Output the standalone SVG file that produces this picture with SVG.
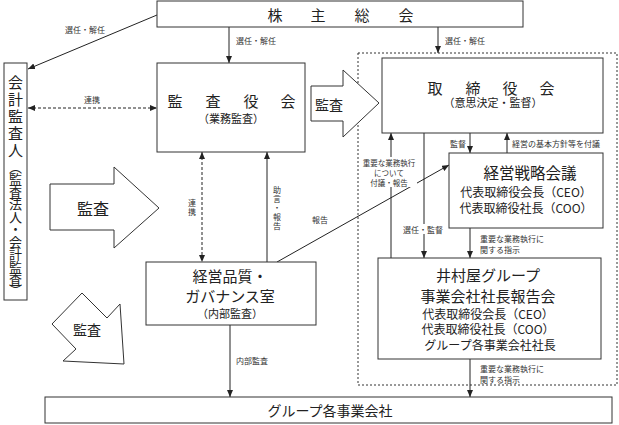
<svg xmlns="http://www.w3.org/2000/svg" width="619" height="425" viewBox="0 0 619 425">
<defs>
<marker id="ah" markerUnits="userSpaceOnUse" markerWidth="7" markerHeight="6" refX="7" refY="3" orient="auto-start-reverse"><path d="M0,0 L7,3 L0,6 z" fill="#222"/></marker>
</defs>
<style>
.box{fill:#fff;stroke:#333;stroke-width:1}
.t{font-family:"Noto Sans CJK JP","Noto Sans CJK SC",sans-serif;fill:#222;text-anchor:middle;dominant-baseline:central}
.s{text-anchor:start}
.e{text-anchor:end}
.big{font-size:15px}
.mid{font-size:12px}
.sub{font-size:11px}
.lbl{font-size:8px;fill:#333}
.ln{stroke:#222;stroke-width:1;fill:none}
.dash{stroke-dasharray:3,2}
.arr{marker-end:url(#ah)}
.dbl{marker-start:url(#ah);marker-end:url(#ah)}
.ba{fill:#fff;stroke:#333;stroke-width:1}
.wb{fill:#fff}
</style>

<rect id="container" x="358" y="53" width="259" height="332" fill="none" stroke="#333" stroke-width="1" stroke-dasharray="2,2"/>

<g id="connectors">
<line class="ln arr" x1="157" y1="15" x2="28" y2="69"/>
<line class="ln arr" x1="229" y1="27" x2="229" y2="63"/>
<line class="ln arr" x1="438" y1="27" x2="438" y2="53"/>
<line class="ln dash dbl" x1="28" y1="108" x2="157" y2="108"/>
<line class="ln dash dbl" x1="202" y1="152" x2="202" y2="262"/>
<line class="ln arr" x1="267" y1="262" x2="267" y2="152"/>
<line class="ln arr" x1="277" y1="262" x2="449" y2="165"/>
<line class="ln arr" x1="230" y1="325" x2="230" y2="397"/>
<line class="ln arr" x1="391" y1="258" x2="391" y2="133"/>
<line class="ln arr" x1="424" y1="133" x2="424" y2="258"/>
<line class="ln arr" x1="470" y1="133" x2="470" y2="153"/>
<line class="ln arr" x1="507" y1="153" x2="507" y2="133"/>
<line class="ln arr" x1="470" y1="228" x2="470" y2="258"/>
<line class="ln arr" x1="470" y1="359" x2="470" y2="397"/>
<g id="connector-labels">
<text class="t lbl" x="85" y="29">選任・解任</text>
<text class="t lbl s" x="236" y="40">選任・解任</text>
<text class="t lbl s" x="445" y="40">選任・解任</text>
<text class="t lbl" x="92" y="99">連携</text>
<text class="t lbl"><tspan x="192" y="202">連</tspan><tspan x="192" y="211">携</tspan></text>
<text class="t lbl"><tspan x="277" y="189">助</tspan><tspan x="277" y="198">言</tspan><tspan x="277" y="207">・</tspan><tspan x="277" y="216">報</tspan><tspan x="277" y="225">告</tspan></text>
<text class="t lbl" x="320" y="219">報告</text>
<text class="t lbl" x="252" y="360">内部監査</text>
<rect class="wb" x="361" y="157" width="56" height="30"/>
<text class="t lbl" style="font-size:7.5px" x="389" y="162">重要な業務執行</text>
<text class="t lbl" style="font-size:7.5px" x="389" y="172">について</text>
<text class="t lbl" style="font-size:7.5px" x="389" y="182">付議・報告</text>
<rect class="wb" x="403" y="224" width="40" height="10"/>
<text class="t lbl" x="423" y="229">選任・監督</text>
<text class="t lbl e" x="466" y="143">監督</text>
<text class="t lbl s" x="512" y="143">経営の基本方針等を付議</text>
<text class="t lbl s" x="480" y="238">重要な業務執行に</text>
<text class="t lbl s" x="480" y="249">関する指示</text>
<text class="t lbl s" x="480" y="368">重要な業務執行に</text>
<text class="t lbl s" x="480" y="379">関する指示</text>
</g>
</g>

<g id="shareholders">
<rect class="box" x="157" y="1" width="366" height="26"/>
<text class="t big" x="275" y="14">株</text>
<text class="t big" x="318" y="14">主</text>
<text class="t big" x="362" y="14">総</text>
<text class="t big" x="406" y="14">会</text>
</g>

<g id="accounting-auditor">
<rect class="box" x="4" y="63" width="23" height="237"/>
<text class="t" style="font-size:15px"><tspan x="15.5" y="81">会</tspan><tspan x="15.5" y="98">計</tspan><tspan x="15.5" y="115">監</tspan><tspan x="15.5" y="132">査</tspan><tspan x="15.5" y="149">人</tspan></text>
<text class="t" style="font-size:13px"><tspan x="15.5" y="166">︵</tspan><tspan x="15.5" y="178">監</tspan><tspan x="15.5" y="190.5">査</tspan><tspan x="15.5" y="203">法</tspan><tspan x="15.5" y="215.5">人</tspan><tspan x="15.5" y="228">・</tspan><tspan x="15.5" y="240.5">会</tspan><tspan x="15.5" y="253">計</tspan><tspan x="15.5" y="265.5">監</tspan><tspan x="15.5" y="278">査</tspan><tspan x="15.5" y="289">︶</tspan></text>
</g>

<g id="audit-board">
<rect class="box" x="157" y="63" width="148" height="89"/>
<text class="t big" x="175" y="100">監</text>
<text class="t big" x="213" y="100">査</text>
<text class="t big" x="251" y="100">役</text>
<text class="t big" x="288" y="100">会</text>
<text class="t sub" x="231" y="118">（業務監査）</text>
</g>

<g id="board">
<rect class="box" x="382" y="58" width="221" height="75"/>
<text class="t big" x="435" y="87">取</text>
<text class="t big" x="473" y="87">締</text>
<text class="t big" x="510" y="87">役</text>
<text class="t big" x="547" y="87">会</text>
<text class="t sub" x="493" y="102">（意思決定・監督）</text>
</g>

<g id="strategy-meeting">
<rect class="box" x="449" y="153" width="154" height="75"/>
<text class="t big" x="530" y="172" style="font-size:15.5px">経営戦略会議</text>
<text class="t mid" x="526" y="191">代表取締役会長（CEO）</text>
<text class="t mid" x="526" y="207">代表取締役社長（COO）</text>
</g>

<g id="imuraya-report">
<rect class="box" x="378" y="258" width="223" height="101"/>
<text class="t big" x="488" y="274">井村屋グループ</text>
<text class="t big" x="488" y="295">事業会社社長報告会</text>
<text class="t mid" x="488" y="313">代表取締役会長（CEO）</text>
<text class="t mid" x="488" y="328.5">代表取締役社長（COO）</text>
<text class="t mid" x="490" y="344">グループ各事業会社社長</text>
</g>

<g id="governance-office">
<rect class="box" x="146" y="262" width="170" height="63"/>
<text class="t big" x="230" y="275">経営品質・</text>
<text class="t big" x="230" y="295">ガバナンス室</text>
<text class="t sub" x="230" y="313">（内部監査）</text>
</g>

<g id="group-companies">
<rect class="box" x="45" y="397" width="567" height="26"/>
<text class="t big" x="330" y="410" style="font-size:14px">グループ各事業会社</text>
</g>

<g id="audit-arrow-top">
<polygon class="ba" points="311,86 343,86 343,70 379,103 343,137 343,121 311,121"/>
<text class="t" x="329" y="104" style="font-size:14px">監査</text>
</g>

<g id="audit-arrow-mid">
<polygon class="ba" points="50,184 114,184 114,167 159,208 114,248 114,230 50,230"/>
<text class="t" x="93" y="208" style="font-size:16px">監査</text>
</g>

<g id="audit-arrow-diag">
<polygon class="ba" points="52,324 82,293 107,318 120,304 124,364 63,361 76,349"/>
<text class="t" x="87" y="329" style="font-size:14px">監査</text>
</g>
</svg>
